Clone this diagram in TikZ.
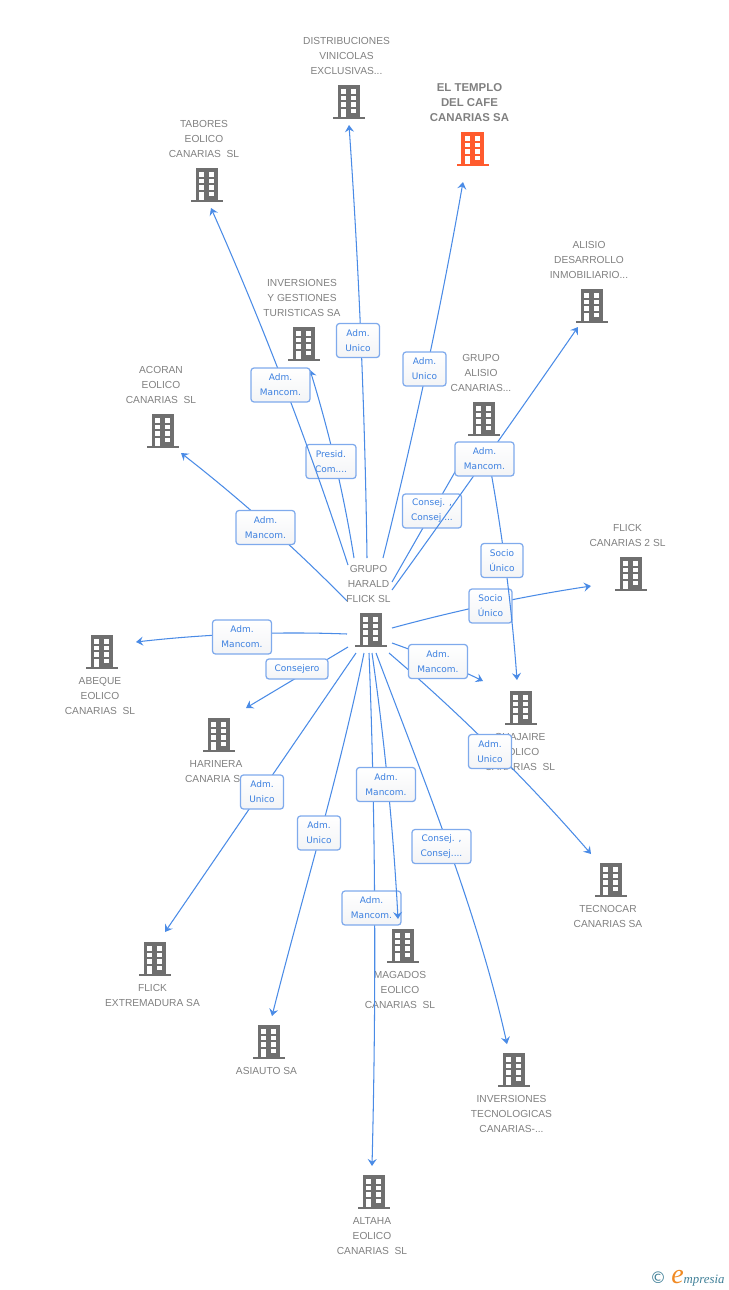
\documentclass[tikz,border=0pt]{standalone}
\usepackage{fontspec}
\setmainfont{Liberation Sans}
\newfontfamily\boxfont{DejaVu Sans}
\newfontfamily\logofont{Liberation Serif}
\usetikzlibrary{arrows.meta,shadings}
\definecolor{bldgray}{HTML}{6F6F6F}
\definecolor{bldorange}{HTML}{FF5B2E}
\definecolor{txtgray}{HTML}{808080}
\definecolor{linkblue}{HTML}{4A8BE6}
\definecolor{boxedge}{HTML}{7FAAEC}
\definecolor{boxtxt}{HTML}{3C80E0}
\definecolor{boxlow}{HTML}{F3F4F6}
\definecolor{logoteal}{HTML}{3F7F97}
\definecolor{logoorange}{HTML}{F08A24}
\tikzset{
  bldgnode/.style={minimum width=32pt,minimum height=34pt,inner sep=0pt,outer sep=0pt},
  nametxt/.style={text=txtgray,align=center,inner sep=0pt,font=\fontsize{10.2}{15}\selectfont},
  nametxtb/.style={text=txtgray,align=center,inner sep=0pt,font=\fontsize{11.4}{15}\selectfont\bfseries},
  rel/.style={draw=boxedge,line width=1.25pt,rounded corners=3pt,top color=white,bottom color=boxlow,
    text=boxtxt,align=center,inner sep=0pt,font=\boxfont\fontsize{9}{15}\selectfont},
  relw/.style={rel,minimum width=59pt,minimum height=34pt},
  reln/.style={rel,minimum width=43pt,minimum height=34pt},
  conn/.style={draw=linkblue,line width=1.05pt,-{Stealth[length=7pt,width=9pt,inset=2.5pt]}},
}
\newcommand{\bldg}[4]{%
  \node[bldgnode] (#1) at (#2,#3) {};
  \begin{scope}[shift={(#1.center)}]
    \fill[#4] (-11.3,-17) rectangle (11.3,15);
    \fill[#4] (-16,14.6) rectangle (16,17);
    \foreach \yy in {-13,-6.4,0.2}{
      \fill[white] (-7.6,\yy) rectangle (-2.6,\yy+4.6);
      \fill[white] (2.4,\yy) rectangle (7.4,\yy+4.6);
    }
    \fill[white] (2.4,6.7) rectangle (7.4,11.3);
    \fill[white] (-7.6,6.7) rectangle (-2.6,14.6);
  \end{scope}}
\begin{document}
\begin{tikzpicture}[x=1pt,y=-1pt]
\useasboundingbox (0,0) rectangle (728,1290);
% buildings
\bldg{distrib}{349}{102}{bldgray}
\bldg{templo}{472.5}{149}{bldorange}
\bldg{tabores}{207}{185}{bldgray}
\bldg{alisio}{592}{306}{bldgray}
\bldg{invgest}{304}{344}{bldgray}
\bldg{galisio}{484}{419}{bldgray}
\bldg{acoran}{163}{431}{bldgray}
\bldg{flick2}{631}{574}{bldgray}
\bldg{hub}{371}{630}{bldgray}
\bldg{abeque}{102}{652}{bldgray}
\bldg{guajaire}{521}{708}{bldgray}
\bldg{harinera}{219}{735}{bldgray}
\bldg{tecnocar}{611}{880}{bldgray}
\bldg{magados}{403}{946}{bldgray}
\bldg{extrem}{155}{959}{bldgray}
\bldg{asiauto}{269}{1042}{bldgray}
\bldg{invtec}{514}{1070}{bldgray}
\bldg{altaha}{374}{1192}{bldgray}
% names
\node[nametxt] (tdistrib) at (346.5,56) {DISTRIBUCIONES\\VINICOLAS\\EXCLUSIVAS...};
\node[nametxtb] (ttemplo) at (469.5,103) {EL TEMPLO\\DEL CAFE\\CANARIAS SA};
\node[nametxt] (ttabores) at (204,139) {TABORES\\EOLICO\\CANARIAS\ \ SL};
\node[nametxt] (talisio) at (589,260) {ALISIO\\DESARROLLO\\INMOBILIARIO...};
\node[nametxt] (tinvgest) at (302,298) {INVERSIONES\\Y GESTIONES\\TURISTICAS SA};
\node[nametxt] (tgalisio) at (481,373) {GRUPO\\ALISIO\\CANARIAS...};
\node[nametxt] (tacoran) at (161,385) {ACORAN\\EOLICO\\CANARIAS\ \ SL};
\node[nametxt] (tflick2) at (627.5,535.5) {FLICK\\CANARIAS 2 SL};
\node[nametxt] (thub) at (368.5,584) {GRUPO\\HARALD\\FLICK SL};
\node[nametxt] (tabeque) at (100,696) {ABEQUE\\EOLICO\\CANARIAS\ \ SL};
\node[nametxt] (tguajaire) at (520,752) {GUAJAIRE\\EOLICO\\CANARIAS\ \ SL};
\node[nametxt] (tharinera) at (216,771.5) {HARINERA\\CANARIA SA};
\node[nametxt] (ttecnocar) at (608,916.5) {TECNOCAR\\CANARIAS SA};
\node[nametxt] (tmagados) at (400,990) {MAGADOS\\EOLICO\\CANARIAS\ \ SL};
\node[nametxt] (textrem) at (152.5,995.5) {FLICK\\EXTREMADURA SA};
\node[nametxt] (tasiauto) at (266.5,1071) {ASIAUTO SA};
\node[nametxt] (tinvtec) at (511.5,1114) {INVERSIONES\\TECNOLOGICAS\\CANARIAS-...};
\node[nametxt] (taltaha) at (372,1236) {ALTAHA\\EOLICO\\CANARIAS\ \ SL};
% connectors and their labels, in stacking order
\draw[conn] ([shift={(12,-72)}]hub.center) .. controls (414.3,432.7) and (441,307.3) .. ([shift={(-9.5,33)}]templo.center);
\node[reln] (l1) at (424.5,369) {Adm.\\Unico};
\draw[conn] ([shift={(-4,-72)}]hub.center) .. controls (365,413.7) and (359,269.3) .. ([shift={(0,23)}]distrib.center);
\node[reln] (l2) at (358,340.5) {Adm.\\Unico};
\draw[conn] ([shift={(-17,-72)}]hub.center) .. controls (344,495.3) and (329.3,432.7) .. ([shift={(6,26)}]invgest.center);
\node[rel,minimum width=50pt,minimum height=34pt] (l3) at (331,461.5) {Presid.\\Com....};
\draw[conn] ([shift={(-23,-65)}]hub.center) .. controls (309.3,446) and (263.7,327) .. ([shift={(4,23)}]tabores.center);
\node[relw] (l4) at (280.5,385) {Adm.\\Mancom.};
\draw[conn] ([shift={(-24,-29)}]hub.center) .. controls (295,548) and (239.7,498.7) .. ([shift={(18,22)}]acoran.center);
\node[relw] (l5) at (265.5,527.5) {Adm.\\Mancom.};
\draw[conn] ([shift={(21,-48)}]hub.center) -- ([shift={(-13,25)}]galisio.center);
\node[relw] (l6) at (432,511) {Consej. ,\\Consej....};
\draw[conn] ([shift={(21,-2)}]hub.center) .. controls (458.3,610) and (524.7,596) .. ([shift={(-40,12)}]flick2.center);
\node[reln] (l7) at (490.5,606) {Socio\\Único};
\draw[conn] ([shift={(2,26)}]galisio.center) .. controls (501,523) and (511.3,601.3) .. ([shift={(-4,-28)}]guajaire.center);
\node[rel,minimum width=42pt,minimum height=34pt] (l8) at (502,560.5) {Socio\\Único};
\draw[conn] ([shift={(21,-40)}]hub.center) .. controls (455.3,502.3) and (517.3,414.7) .. ([shift={(-14,21)}]alisio.center);
\node[relw] (l9) at (484.5,459) {Adm.\\Mancom.};
\draw[conn] ([shift={(18,23)}]hub.center) .. controls (461.3,715) and (528.7,782) .. ([shift={(-20,-26)}]tecnocar.center);
\node[reln] (l10) at (490,751.5) {Adm.\\Unico};
\draw[conn] ([shift={(21,13)}]hub.center) .. controls (422.3,653.7) and (452.7,666.3) .. ([shift={(-38,-27)}]guajaire.center);
\node[relw] (l11) at (438,661.5) {Adm.\\Mancom.};
\draw[conn] ([shift={(-24,4)}]hub.center) .. controls (276.7,631.3) and (206.3,634) .. ([shift={(34,-10)}]abeque.center);
\node[relw] (l12) at (242,637) {Adm.\\Mancom.};
\draw[conn] ([shift={(-23,17)}]hub.center) -- ([shift={(27,-27)}]harinera.center);
\node[rel,minimum width=62pt,minimum height=20pt] (l13) at (297,669) {Consejero};
\draw[conn] ([shift={(-15,23)}]hub.center) -- ([shift={(10,-27)}]extrem.center);
\node[reln] (l14) at (262,792) {Adm.\\Unico};
\draw[conn] ([shift={(-7,23)}]hub.center) .. controls (339.3,775) and (302.3,896) .. ([shift={(3,-26)}]asiauto.center);
\node[reln] (l15) at (319,833) {Adm.\\Unico};
\draw[conn] ([shift={(-2,23)}]hub.center) .. controls (375.7,823.7) and (376.3,994.7) .. ([shift={(-2,-26)}]altaha.center);
\node[relw] (l16) at (371.5,908) {Adm.\\Mancom.};
\draw[conn] ([shift={(1,23)}]hub.center) .. controls (384.7,741.7) and (393.3,830.3) .. ([shift={(-5,-27)}]magados.center);
\node[relw] (l17) at (386,784.5) {Adm.\\Mancom.};
\draw[conn] ([shift={(5,23)}]hub.center) .. controls (425.3,783.3) and (478,913.7) .. ([shift={(-7,-26)}]invtec.center);
\node[relw] (l18) at (441.5,846.5) {Consej. ,\\Consej....};
% logo
\node[text=logoteal,inner sep=0pt,font=\boxfont\fontsize{16}{16}\selectfont] (logoc) at (658,1278) {©};
\node[text=logoorange,inner sep=0pt,font=\logofont\itshape\fontsize{28}{28}\selectfont] (logoe) at (677.5,1277.5) {e};
\node[text=logoteal,inner sep=0pt,anchor=base west,font=\logofont\itshape\fontsize{12.8}{12.8}\selectfont] (logot) at (683.5,1283) {mpresia};
\end{tikzpicture}
\end{document}
